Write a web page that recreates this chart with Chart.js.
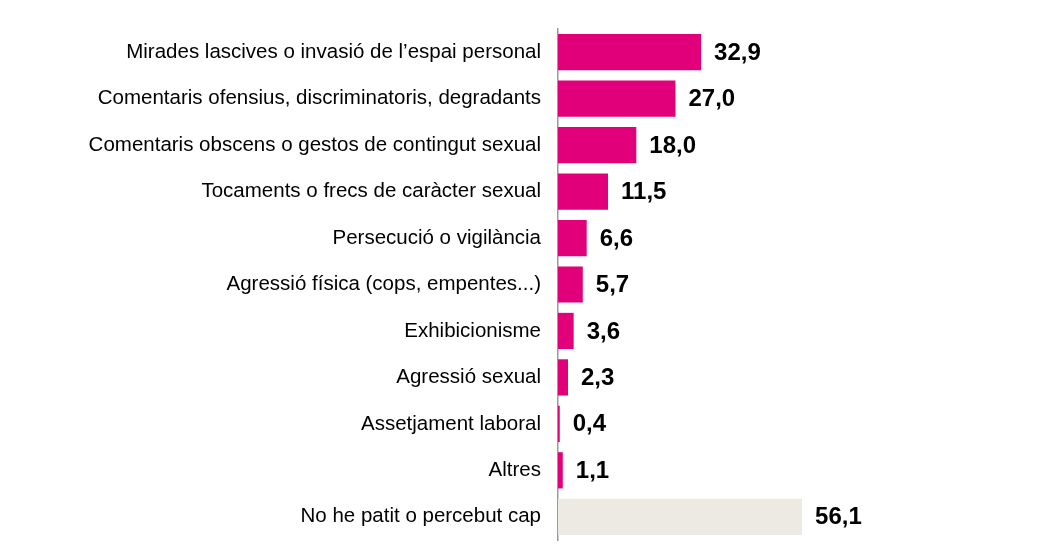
<!DOCTYPE html>
<html>
<head>
<meta charset="utf-8">
<script src="https://cdn.jsdelivr.net/npm/chart.js@4.4.0/dist/chart.umd.min.js"></script>
<style>
  html, body { margin: 0; padding: 0; background: #fff; }
  #wrap { width: 1037px; height: 559px; }
</style>
</head>
<body>
<div id="wrap"><canvas id="chart"></canvas></div>
<script>
// ── data ───────────────────────────────────────────────
const categories = [
  'Mirades lascives o invasió de l’espai personal',
  'Comentaris ofensius, discriminatoris, degradants',
  'Comentaris obscens o gestos de contingut sexual',
  'Tocaments o frecs de caràcter sexual',
  'Persecució o vigilància',
  'Agressió física (cops, empentes...)',
  'Exhibicionisme',
  'Agressió sexual',
  'Assetjament laboral',
  'Altres',
  'No he patit o percebut cap'
];
const values = [32.9, 27.0, 18.0, 11.5, 6.6, 5.7, 3.6, 2.3, 0.4, 1.1, 56.1];

const PINK = '#E2007A';
const GREY = '#ECEAE2';
const barColors = categories.map((c, i) => i === categories.length - 1 ? GREY : PINK);

// ── value labels after each bar ────────────────────────
const valueLabels = {
  id: 'valueLabels',
  afterDatasetsDraw(chart) {
    const { ctx } = chart;
    const meta = chart.getDatasetMeta(0);
    ctx.save();
    ctx.font = 'bold 24px "Liberation Sans", Arial, sans-serif';
    ctx.fillStyle = '#000';
    ctx.textAlign = 'left';
    ctx.textBaseline = 'middle';
    meta.data.forEach((bar, i) => {
      const txt = values[i].toFixed(1).replace('.', ',');
      ctx.fillText(txt, bar.x + 13, bar.y + 1);
    });
    ctx.restore();
  }
};

new Chart(document.getElementById('chart'), {
  type: 'bar',
  data: {
    labels: categories,
    datasets: [{
      data: values,
      backgroundColor: barColors,
      borderWidth: 0,
      barPercentage: 0.78,
      categoryPercentage: 1
    }]
  },
  options: {
    indexAxis: 'y',
    responsive: true,
    maintainAspectRatio: false,
    animation: false,
    layout: { padding: { top: 29, bottom: 19, left: 0, right: 44 } },
    plugins: { legend: { display: false }, tooltip: { enabled: false } },
    scales: {
      x: {
        display: false,
        min: 0,
        max: 100
      },
      y: {
        afterFit(scale) {
          scale.width = 558;
          scale.paddingTop = 0;
          scale.paddingBottom = 0;
        },
        grid: { display: false, drawTicks: false },
        border: { display: true, color: '#9a9a9a', width: 1.5 },
        ticks: {
          color: '#000',
          padding: 17,
          font: { family: '"Liberation Sans", Arial, sans-serif', size: 20.5 }
        }
      }
    }
  },
  plugins: [valueLabels]
});
</script>
</body>
</html>
